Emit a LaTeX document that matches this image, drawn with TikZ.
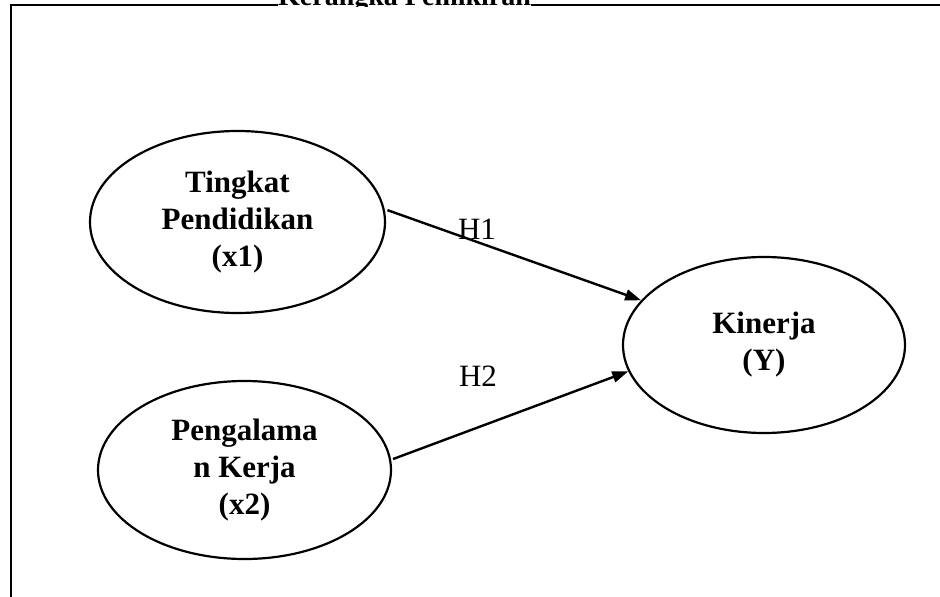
\documentclass[tikz,border=0pt]{standalone}
\usepackage{fontspec}
\setmainfont{Liberation Serif}
\usetikzlibrary{shapes.geometric,arrows.meta}
\tikzset{
  varbox/.style={draw, ellipse, line width=2.2pt, inner sep=0pt, align=center,
    font=\fontsize{31}{37}\selectfont\bfseries},
  hlabel/.style={anchor=base, inner sep=0pt, font=\fontsize{31}{37}\selectfont},
  link/.style={line width=2.4pt, -{Triangle[length=16pt,width=11pt]}}
}
\begin{document}
\begin{tikzpicture}[x=1pt,y=-1pt]
    \useasboundingbox (0,0) rectangle (940,597);
    \draw[line width=2.6pt] (11,610) -- (11,5) -- (950,5);
    \begin{scope}
        \clip (0,-40) rectangle (940,6);
        \node[fill=white, anchor=base west, inner sep=0pt,
          font=\fontsize{28}{34}\selectfont\bfseries] (title) at (278,5.5) {Kerangka Pemikiran};
    \end{scope}
    \node[varbox, minimum width=295pt, minimum height=182pt] (tp) at (237.5,222) {Tingkat\\Pendidikan\\(x1)};
    \node[varbox, minimum width=293pt, minimum height=178pt] (pk) at (244.5,470) {Pengalama\\n Kerja\\(x2)};
    \node[varbox, minimum width=282pt, minimum height=176pt] (kin) at (764,345) {Kinerja\\(Y)};
    \draw[link, shorten <=3pt] (tp.5) -- (kin.160);
    \draw[link, shorten <=2pt] (pk.4) -- (kin.191);
    \node[hlabel] (h1) at (477,239) {H1};
    \node[hlabel] (h2) at (478,386) {H2};
\end{tikzpicture}
\end{document}
